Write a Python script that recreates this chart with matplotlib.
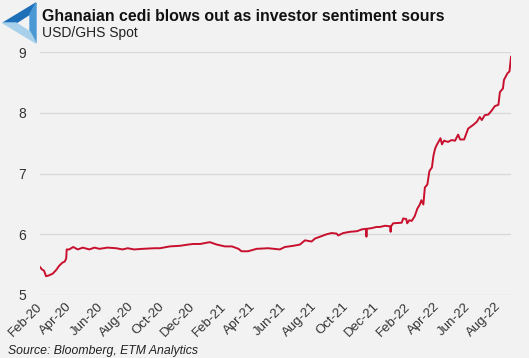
import matplotlib
matplotlib.use("Agg")
import matplotlib.pyplot as plt
import matplotlib.dates as mdates
from matplotlib.patches import Polygon
import pandas as pd

# USD/GHS spot
dates = [
    "2020-02-01", "2020-02-05", "2020-02-09", "2020-02-13", "2020-02-18", "2020-02-26",
    "2020-03-04", "2020-03-10", "2020-03-16", "2020-03-21", "2020-03-24", "2020-03-25",
    "2020-03-30", "2020-04-07", "2020-04-16", "2020-04-26", "2020-05-09", "2020-05-19",
    "2020-05-29", "2020-06-14", "2020-07-01", "2020-07-14", "2020-07-24", "2020-08-06",
    "2020-08-23", "2020-09-15", "2020-09-26", "2020-10-16", "2020-11-05", "2020-11-21",
    "2020-12-01", "2020-12-15", "2021-01-03", "2021-01-17", "2021-02-02", "2021-02-16",
    "2021-03-01", "2021-03-07", "2021-03-20", "2021-04-06", "2021-04-29", "2021-05-22",
    "2021-06-01", "2021-06-18", "2021-07-01", "2021-07-11", "2021-07-24", "2021-07-31",
    "2021-08-10", "2021-08-23", "2021-09-02", "2021-09-12", "2021-09-15", "2021-09-25",
    "2021-10-08", "2021-10-22", "2021-11-01", "2021-11-09", "2021-11-10", "2021-11-11",
    "2021-11-20", "2021-11-30", "2021-12-07", "2021-12-17", "2021-12-27", "2021-12-28",
    "2021-12-29", "2022-01-02", "2022-01-19", "2022-01-22", "2022-01-28", "2022-01-30",
    "2022-02-03", "2022-02-08", "2022-02-14", "2022-02-19", "2022-02-24", "2022-02-27",
    "2022-03-03", "2022-03-06", "2022-03-11", "2022-03-15", "2022-03-20", "2022-03-23",
    "2022-03-26", "2022-03-29", "2022-04-02", "2022-04-06", "2022-04-09", "2022-04-13",
    "2022-04-21", "2022-04-28", "2022-05-05", "2022-05-11", "2022-05-15", "2022-05-23",
    "2022-05-31", "2022-06-10", "2022-06-17", "2022-06-23", "2022-06-27", "2022-07-03",
    "2022-07-10", "2022-07-17", "2022-07-23", "2022-07-30", "2022-08-02", "2022-08-08",
    "2022-08-10", "2022-08-17", "2022-08-21", "2022-08-24",
]
usdghs = [
    5.46, 5.42, 5.40, 5.31, 5.32, 5.35,
    5.41, 5.48, 5.53, 5.55, 5.60, 5.75,
    5.75, 5.79, 5.75, 5.78, 5.75, 5.78,
    5.76, 5.78, 5.77, 5.75, 5.77, 5.75,
    5.76, 5.77, 5.77, 5.80, 5.81, 5.83,
    5.84, 5.84, 5.87, 5.83, 5.80, 5.80,
    5.76, 5.72, 5.72, 5.76, 5.77, 5.75,
    5.79, 5.81, 5.83, 5.90, 5.88, 5.93,
    5.96, 6.00, 6.02, 6.01, 5.98, 6.02,
    6.04, 6.05, 6.08, 6.09, 5.96, 6.09,
    6.10, 6.12, 6.12, 6.14, 6.13, 6.04,
    6.13, 6.18, 6.19, 6.26, 6.25, 6.18,
    6.23, 6.22, 6.30, 6.42, 6.49, 6.56,
    6.49, 6.77, 6.82, 7.04, 7.10, 7.29,
    7.40, 7.46, 7.52, 7.58, 7.48, 7.54,
    7.52, 7.55, 7.54, 7.64, 7.56, 7.56,
    7.74, 7.80, 7.85, 7.93, 7.88, 7.96,
    7.97, 8.04, 8.11, 8.13, 8.34, 8.40,
    8.54, 8.65, 8.68, 8.92,
]
x_start, x_end = "2020-02-01", "2022-08-24"
y_ticks = [5, 6, 7, 8, 9]

title = "Ghanaian cedi blows out as investor sentiment sours"
subtitle = "USD/GHS Spot"
source = "Source: Bloomberg, ETM Analytics"

bg = "#f2f2f2"
red = "#c8102e"

plt.rcParams["font.family"] = ["Liberation Sans", "DejaVu Sans"]

W, H = 529, 358
fig = plt.figure(figsize=(W / 100, H / 100), dpi=100, facecolor=bg)
ax = fig.add_axes([40 / W, 1 - 295 / H, 471 / W, 243 / H])
ax.set_facecolor(bg)

ax.plot(pd.to_datetime(dates), usdghs, color=red, lw=1.4)

ax.set_xlim(pd.Timestamp(x_start), pd.Timestamp(x_end))
ax.set_ylim(5, 9)
ax.set_yticks(y_ticks)
ax.grid(axis="y", color="#d9d9d9", lw=1)
ax.set_axisbelow(True)
for s in ax.spines.values():
    s.set_visible(False)

ax.xaxis.set_major_locator(mdates.MonthLocator(bymonth=[2, 4, 6, 8, 10, 12]))
ax.xaxis.set_major_formatter(mdates.DateFormatter("%b-%y"))
ax.tick_params(axis="both", length=0, colors="#333333", labelsize=10)
ax.tick_params(axis="y", pad=10)
ax.tick_params(axis="x", pad=7, labelsize=9.5)
for lab in ax.get_xticklabels():
    lab.set_rotation(45)
    lab.set_ha("right")
    lab.set_va("center")
    lab.set_rotation_mode("anchor")

# header text
fig.text(42 / W, 1 - 20.7 / H, title, fontsize=11.4, fontweight="bold",
         color="#111111", va="baseline")
fig.text(42 / W, 1 - 37.3 / H, subtitle, fontsize=10, color="#222222", va="baseline")
fig.text(8 / W, 1 - 354 / H, source, fontsize=8.8, style="italic", color="#222222",
         va="baseline")

# logo, drawn in pixel space
over = fig.add_axes([0, 0, 1, 1], zorder=-1)
over.set_xlim(0, W)
over.set_ylim(H, 0)
over.axis("off")
A, B, C = (3, 23), (36, 3), (36, 43)
a, b, c = (16, 23), (30, 14), (30, 32)
over.add_patch(Polygon([A, B, b, a], closed=True, color="#1d6fb8"))
over.add_patch(Polygon([B, C, c, b], closed=True, color="#4a98d4"))
over.add_patch(Polygon([C, A, a, c], closed=True, color="#a8d0ea"))

fig.savefig("out.png", dpi=100, facecolor=bg)
